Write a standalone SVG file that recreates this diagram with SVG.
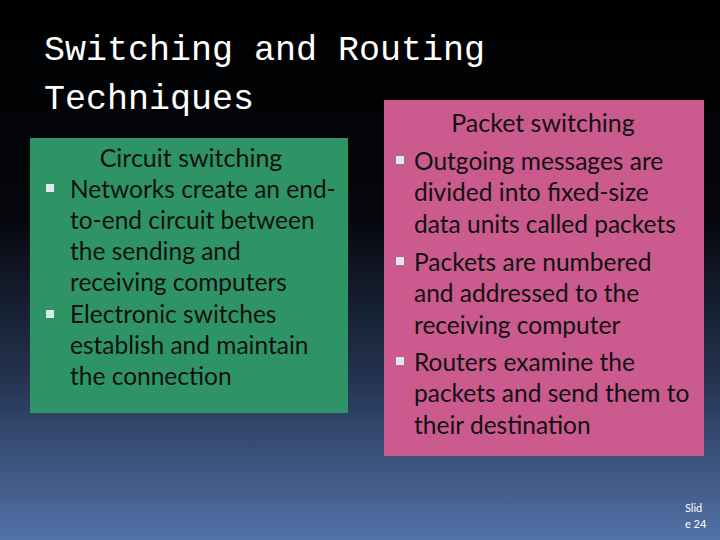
<svg xmlns="http://www.w3.org/2000/svg" width="720" height="540" viewBox="0 0 720 540">
<defs>
<linearGradient id="bg" x1="0" y1="0" x2="0" y2="1">
<stop offset="0" stop-color="#000000"/><stop offset="0.4" stop-color="#05070c"/><stop offset="0.7" stop-color="#243350"/><stop offset="1" stop-color="#5272a8"/>
</linearGradient>
</defs>
<style>
.t{font-family:Lato,"Open Sans",sans-serif;font-size:24.5px;fill:#111}
.h{font-family:Lato,"Open Sans",sans-serif;font-size:25px;fill:#111}
.b{fill:#dfe8ee}
</style>
<rect width="720" height="540" fill="url(#bg)"/>
<g id="title" font-family="'Liberation Mono',monospace" font-size="35" fill="#ffffff">
<text x="44" y="60">Switching and Routing</text>
<text x="44" y="109">Techniques</text>
</g>
<g id="circuit">
<rect x="30" y="138" width="318" height="275" fill="#2e9466"/>
<text class="h" x="191" y="167" text-anchor="middle">Circuit switching</text>
<rect class="b" x="46" y="184" width="8" height="8"/>
<rect class="b" x="46" y="310" width="8" height="8"/>
<text class="t"><tspan x="70" y="198">Networks create an end-</tspan><tspan x="70" y="229">to-end circuit between</tspan><tspan x="70" y="260">the sending and</tspan><tspan x="70" y="291">receiving computers</tspan><tspan x="70" y="323">Electronic switches</tspan><tspan x="70" y="354">establish and maintain</tspan><tspan x="70" y="385">the connection</tspan></text>
</g>
<g id="packet">
<rect x="384" y="100" width="320" height="356" fill="#cb5a8e"/>
<text class="h" x="543" y="132" text-anchor="middle">Packet switching</text>
<rect class="b" x="396" y="156" width="8" height="8"/>
<rect class="b" x="396" y="257" width="8" height="8"/>
<rect class="b" x="396" y="357" width="8" height="8"/>
<text class="t"><tspan x="414" y="170">Outgoing messages are</tspan><tspan x="414" y="201">divided into fixed-size</tspan><tspan x="414" y="233">data units called packets</tspan><tspan x="414" y="271">Packets are numbered</tspan><tspan x="414" y="302">and addressed to the</tspan><tspan x="414" y="334">receiving computer</tspan><tspan x="414" y="371">Routers examine the</tspan><tspan x="414" y="402">packets and send them to</tspan><tspan x="414" y="434">their destination</tspan></text>
</g>
<g id="slidenum" font-family="Lato,sans-serif" font-size="11" fill="#ffffff">
<text x="685" y="512">Slid</text><text x="685" y="528">e 24</text>
</g>
</svg>
